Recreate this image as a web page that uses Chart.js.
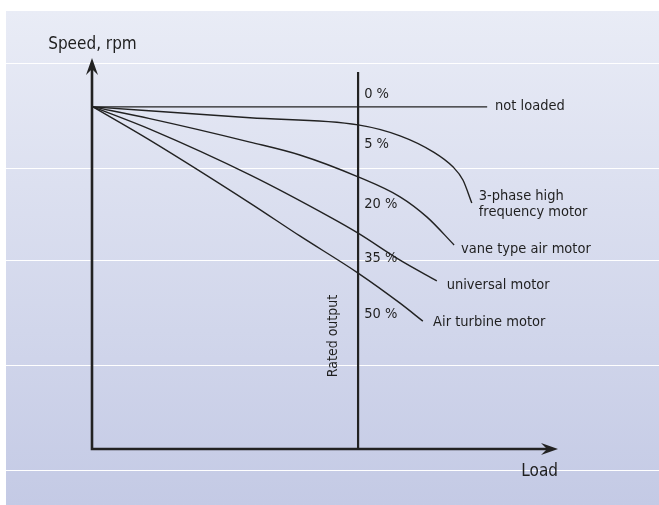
<!DOCTYPE html>
<html>
<head>
<meta charset="utf-8">
<script src="https://cdn.jsdelivr.net/npm/chart.js@4"></script>
<style>
  html, body { margin: 0; padding: 0; background: #fff; }
  #chart { display: block; }
</style>
</head>
<body>
<canvas id="chart" width="659" height="505"></canvas>
<script>
// ── Data (load 0..100, speed 0..100, arbitrary units) ─────────────────
const notLoadedLoad  = [0.2, 84.8];
const notLoadedSpeed = [87.5, 87.5];

const threePhaseLoad  = [0.2, 33.9, 57.1, 66.1, 73.2, 77.5, 79.6, 81.5];
const threePhaseSpeed = [87.5, 84.7, 82.9, 80.1, 76.0, 72.1, 68.8, 62.9];

const vaneLoad  = [0.2, 12.4, 33.9, 44.6, 57.1, 66.1, 71.9, 77.7];
const vaneSpeed = [87.5, 84.5, 78.5, 75.2, 69.6, 64.5, 59.3, 52.2];

const universalLoad  = [0.2, 12.4, 33.9, 51.1, 57.1, 66.1, 74.0];
const universalSpeed = [87.5, 81.8, 70.1, 59.3, 55.2, 48.3, 43.0];

const turbineLoad  = [0.2, 12.4, 33.9, 44.6, 57.1, 66.1, 71.0];
const turbineSpeed = [87.5, 79.0, 62.9, 54.5, 45.0, 37.3, 32.7];

const ratedLoad  = [57.1, 57.1];
const ratedSpeed = [0, 96.4];

// percent markers along rated output
const pctLabels = ["0 %", "5 %", "20 %", "35 %", "50 %"];
const pctSpeed  = [90.8, 78.0, 62.7, 48.8, 34.5];
const pctLoad   = 58.4;

// curve names (lines of text, anchor load, anchor speed)
const curveNames  = [["not loaded"], ["3-phase high", "frequency motor"], ["vane type air motor"], ["universal motor"], ["Air turbine motor"]];
const curveNameX  = [86.5, 83.0, 79.2, 76.1, 73.2];
const curveNameY  = [87.7, 64.7, 51.2, 42.0, 32.4];

// background stripe levels
const stripeSpeed = [98.7, 71.9, 48.3, 21.5, -5.4];

const pts = (xs, ys) => xs.map((x, i) => ({ x, y: ys[i] }));

const INK  = "#222222";
const FAMILY = "'DejaVu Sans Condensed', 'DejaVu Sans', sans-serif";

function line(data, curved, width) {
  return {
    data, borderColor: INK, borderWidth: width || 1.4,
    pointRadius: 0, fill: false,
    tension: curved ? 0.4 : 0,
    cubicInterpolationMode: curved ? "monotone" : "default",
  };
}

// ── Background panel + stripes ────────────────────────────────────────
const backdrop = {
  id: "backdrop",
  beforeDraw(chart) {
    const { ctx, scales: { y } } = chart;
    const W = chart.width, H = chart.height;
    ctx.save();
    ctx.fillStyle = "#ffffff";
    ctx.fillRect(0, 0, W, H);
    const g = ctx.createLinearGradient(0, 11, 0, H);
    g.addColorStop(0, "#e9ecf6");
    g.addColorStop(1, "#c4cae5");
    ctx.fillStyle = g;
    ctx.fillRect(6, 11, W - 6, H - 11);
    ctx.strokeStyle = "#ffffff";
    ctx.lineWidth = 1.2;
    stripeSpeed.forEach(v => {
      const py = Math.round(y.getPixelForValue(v)) + 0.5;
      ctx.beginPath(); ctx.moveTo(6, py); ctx.lineTo(W, py); ctx.stroke();
    });
    ctx.restore();
  }
};

// ── Axes with arrows + text ───────────────────────────────────────────
function arrow(ctx, tx, ty, dx, dy) {
  // stealth arrow head pointing in (dx,dy)
  const len = 17, half = 6, notch = 11;
  const nx = -dy, ny = dx;
  ctx.beginPath();
  ctx.moveTo(tx, ty);
  ctx.lineTo(tx - dx * len + nx * half, ty - dy * len + ny * half);
  ctx.lineTo(tx - dx * notch, ty - dy * notch);
  ctx.lineTo(tx - dx * len - nx * half, ty - dy * len - ny * half);
  ctx.closePath();
  ctx.fill();
}

const overlay = {
  id: "overlay",
  afterDraw(chart) {
    const { ctx, scales: { x, y } } = chart;
    const x0 = x.getPixelForValue(0), y0 = y.getPixelForValue(0);
    const xEnd = x.getPixelForValue(100), yEnd = y.getPixelForValue(100);
    ctx.save();
    ctx.strokeStyle = INK; ctx.fillStyle = INK;
    ctx.lineWidth = 2.6;
    ctx.beginPath();
    ctx.moveTo(x0, yEnd + 10); ctx.lineTo(x0, y0); ctx.lineTo(xEnd - 10, y0);
    ctx.stroke();
    arrow(ctx, x0, yEnd, 0, -1);
    arrow(ctx, xEnd, y0, 1, 0);

    ctx.textBaseline = "middle";
    ctx.fillStyle = "#1f1f1f";

    ctx.font = "17px " + FAMILY;
    ctx.textAlign = "left";
    ctx.fillText("Speed, rpm", x.getPixelForValue(-9.4), y.getPixelForValue(103.5));
    ctx.textAlign = "right";
    ctx.fillText("Load", xEnd, y.getPixelForValue(-5.9));

    ctx.font = "14.5px " + FAMILY;
    ctx.textAlign = "left";
    pctLabels.forEach((t, i) => ctx.fillText(t, x.getPixelForValue(pctLoad), y.getPixelForValue(pctSpeed[i])));
    curveNames.forEach((lines, i) => {
      lines.forEach((t, j) => ctx.fillText(t, x.getPixelForValue(curveNameX[i]), y.getPixelForValue(curveNameY[i]) + j * 16));
    });

    ctx.font = "14px " + FAMILY;
    ctx.save();
    ctx.translate(x.getPixelForValue(51.7), y.getPixelForValue(28.9));
    ctx.rotate(-Math.PI / 2);
    ctx.textAlign = "center";
    ctx.fillText("Rated output", 0, 0);
    ctx.restore();
    ctx.restore();
  }
};

new Chart(document.getElementById("chart"), {
  type: "line",
  data: {
    datasets: [
      line(pts(notLoadedLoad, notLoadedSpeed), false),
      line(pts(threePhaseLoad, threePhaseSpeed), true),
      line(pts(vaneLoad, vaneSpeed), true),
      line(pts(universalLoad, universalSpeed), true),
      line(pts(turbineLoad, turbineSpeed), true),
      line(pts(ratedLoad, ratedSpeed), false, 2.2),
    ]
  },
  options: {
    responsive: false,
    devicePixelRatio: 1,
    animation: false,
    layout: { padding: { left: 92, right: 101, top: 58, bottom: 56 } },
    plugins: { legend: { display: false }, tooltip: { enabled: false } },
    scales: {
      x: { type: "linear", min: 0, max: 100, display: false },
      y: { type: "linear", min: 0, max: 100, display: false }
    }
  },
  plugins: [backdrop, overlay]
});
</script>
</body>
</html>
